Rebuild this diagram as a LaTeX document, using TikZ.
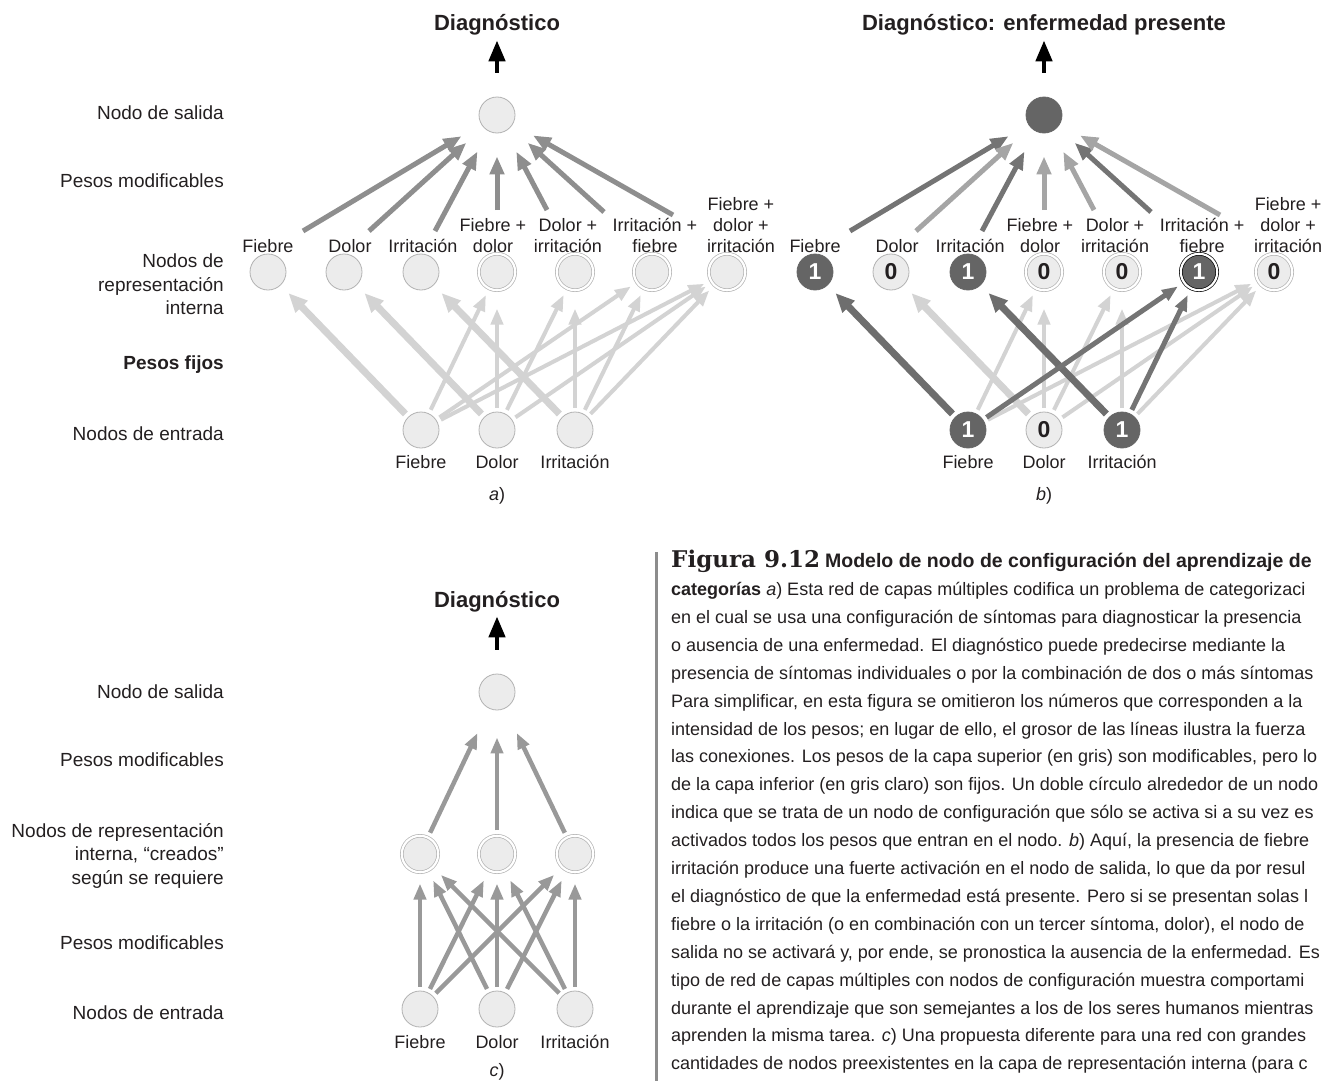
\documentclass[tikz,border=0pt]{standalone}
\usepackage{fontspec}
\setmainfont{Liberation Sans}
\newfontfamily\figfont{DejaVu Serif}
\usetikzlibrary{arrows.meta}
\definecolor{nodefill}{HTML}{ECECEC}
\definecolor{nodeline}{HTML}{B2B2B2}
\definecolor{actfill}{HTML}{656565}
\definecolor{fixgray}{HTML}{D3D3D3}
\definecolor{modgray}{HTML}{8E8E8E}
\definecolor{hotgray}{HTML}{747474}
\definecolor{coolgray}{HTML}{A5A5A5}
\definecolor{cgray}{HTML}{999999}
\definecolor{bargray}{HTML}{8C8C8C}
\definecolor{inkgray}{HTML}{231F20}

\tikzset{
  unitnode/.style={circle, minimum size=36pt, inner sep=0pt, fill=nodefill, draw=nodeline,
    line width=0.8pt, font=\fontsize{23}{26}\selectfont\bfseries, text=inkgray},
  cfg/.style={unitnode, minimum size=36.4pt, double=white, double distance=2.2pt, line width=0.7pt},
  fired/.style={fill=actfill, draw=actfill, text=white},
  lbl/.style={inner sep=0pt, align=center, anchor=south, font=\fontsize{18}{21}\selectfont, text=inkgray},
  sidelbl/.style={inner sep=0pt, align=right, font=\fontsize{19}{23.5}\selectfont, text=inkgray},
  ttl/.style={inner sep=0pt, anchor=base, font=\fontsize{22}{26}\selectfont\bfseries, text=inkgray},
  outarr/.style={draw=black, line width=4.5pt, -{Triangle[length=21pt,width=16pt]}, shorten <=24pt, shorten >=4.5pt},
  modw/.style={draw=modgray, line width=5pt, -{Triangle[length=18pt,width=14pt]}, shorten >=23pt},
  fixthin/.style={draw=fixgray, line width=4pt, -{Triangle[length=16pt,width=12pt]}, shorten <=4pt, shorten >=7pt},
  fixthick/.style={fixthin, line width=7pt, -{Triangle[length=19pt,width=16pt]}, shorten >=11pt},
  cmod/.style={draw=cgray, line width=4.5pt, -{Triangle[length=16pt,width=12pt]}, shorten <=4pt, shorten >=11pt},
}

\begin{document}
\begin{tikzpicture}[x=1pt,y=-1pt]
  \useasboundingbox (0,0) rectangle (1324,1081);
  % left column, top
  \node[sidelbl, anchor=base east] (asal) at (224,119) {Nodo de salida};
  \node[sidelbl, anchor=base east] (apes) at (224,187) {Pesos modificables};
  \node[sidelbl, anchor=north east] (arep) at (224,254) {Nodos de\\representación\\interna};
  \node[sidelbl, anchor=base east] (afij) at (224,369) {\textbf{Pesos fijos}};
  \node[sidelbl, anchor=base east] (aent) at (224,440) {Nodos de entrada};

  % a)
  \node[ttl] (atit) at (497,31) {Diagnóstico};
  \node[unitnode] (aout) at (497,115) {};
  \draw[outarr] (aout) -- (atit);
  \foreach \i/\x in {1/268,2/344,3/421}
    \node[unitnode] (ah\i) at (\x,272) {};
  \foreach \i/\x in {4/497,5/575,6/652,7/727}
    \node[cfg] (ah\i) at (\x,272) {};
  \foreach \i/\x in {1/421,2/497,3/575}
    \node[unitnode] (ain\i) at (\x,430) {};
  \node[lbl] (al1) at (268,253) {Fiebre};
  \node[lbl] (al2) at (350,253) {Dolor};
  \node[lbl] (al3) at (423,253) {Irritación};
  \node[lbl] (al4) at (493,253) {Fiebre +\\dolor};
  \node[lbl] (al5) at (568,253) {Dolor +\\irritación};
  \node[lbl] (al6) at (655,253) {Irritación +\\fiebre};
  \node[lbl] (al7) at (741,253) {Fiebre +\\dolor +\\irritación};
  \node[lbl, anchor=base] (ail1) at (421,468) {Fiebre};
  \node[lbl, anchor=base] (ail2) at (497,468) {Dolor};
  \node[lbl, anchor=base] (ail3) at (575,468) {Irritación};
  \node[lbl, anchor=base] (acap) at (497,500) {\textit{a})};
  \foreach \i/\x/\y in {1/303/231,2/369/231,3/435/231,4/497/210,5/547/210,6/604/212,7/673/215}
    \coordinate (as\i) at (\x,\y);
  \foreach \i in {1,...,7}
    \draw[modw] (as\i) -- (aout);
  \foreach \s/\t in {1/1,2/2,3/3}
    \draw[fixthick] (ain\s) -- (ah\t);
  \foreach \s/\t in {1/4,2/5,1/6,3/6,1/7,2/7,3/7}
    \draw[fixthin] (ain\s) -- (ah\t);
  \foreach \s/\t in {2/4,3/5}
    \draw[fixthin, shorten >=18pt] (ain\s) -- (ah\t);

  % b)
  \begin{scope}[xshift=547pt]
    \node[ttl] (btit) at (497,31) {Diagnóstico: enfermedad presente};
    \node[unitnode, fired] (bout) at (497,115) {};
    \draw[outarr] (bout) -- (btit);
    \node[unitnode, fired] (bh1) at (268,272) {1};
    \node[unitnode] (bh2) at (344,272) {0};
    \node[unitnode, fired] (bh3) at (421,272) {1};
    \node[cfg] (bh4) at (497,272) {0};
    \node[cfg] (bh5) at (575,272) {0};
    \node[cfg, fired, draw=black] (bh6) at (652,272) {1};
    \node[cfg] (bh7) at (727,272) {0};
    \node[unitnode, fired] (bin1) at (421,430) {1};
    \node[unitnode] (bin2) at (497,430) {0};
    \node[unitnode, fired] (bin3) at (575,430) {1};
    \node[lbl] (bl1) at (268,253) {Fiebre};
    \node[lbl] (bl2) at (350,253) {Dolor};
    \node[lbl] (bl3) at (423,253) {Irritación};
    \node[lbl] (bl4) at (493,253) {Fiebre +\\dolor};
    \node[lbl] (bl5) at (568,253) {Dolor +\\irritación};
    \node[lbl] (bl6) at (655,253) {Irritación +\\fiebre};
    \node[lbl] (bl7) at (741,253) {Fiebre +\\dolor +\\irritación};
    \node[lbl, anchor=base] (bil1) at (421,468) {Fiebre};
    \node[lbl, anchor=base] (bil2) at (497,468) {Dolor};
    \node[lbl, anchor=base] (bil3) at (575,468) {Irritación};
    \node[lbl, anchor=base] (bcap) at (497,500) {\textit{b})};
    \foreach \i/\x/\y in {1/303/231,2/369/231,3/435/231,4/497/210,5/547/210,6/604/212,7/673/215}
      \coordinate (bs\i) at (\x,\y);
    \foreach \i/\c in {1/hotgray,2/coolgray,3/hotgray,4/coolgray,5/coolgray,6/hotgray,7/coolgray}
      \draw[modw, draw=\c] (bs\i) -- (bout);
    \draw[fixthick] (bin2) -- (bh2);
    \foreach \s/\t in {1/4,2/5,1/7,2/7,3/7}
      \draw[fixthin] (bin\s) -- (bh\t);
    \foreach \s/\t in {2/4,3/5}
      \draw[fixthin, shorten >=18pt] (bin\s) -- (bh\t);
    \foreach \s/\t in {1/1,3/3}
      \draw[fixthick, draw=hotgray!95!black] (bin\s) -- (bh\t);
    \foreach \s/\t in {1/6,3/6}
      \draw[fixthin, draw=hotgray, line width=5pt] (bin\s) -- (bh\t);
  \end{scope}

  % c)
  \node[sidelbl, anchor=base east] (csal) at (224,698) {Nodo de salida};
  \node[sidelbl, anchor=base east] (cpes) at (224,766) {Pesos modificables};
  \node[sidelbl, anchor=north east] (crep) at (224,823) {Nodos de representación\\interna, “creados”\\según se requiere};
  \node[sidelbl, anchor=base east] (cpes2) at (224,949) {Pesos modificables};
  \node[sidelbl, anchor=base east] (cent) at (224,1019) {Nodos de entrada};
  \node[ttl] (ctit) at (497,607) {Diagnóstico};
  \node[unitnode] (cout) at (497,692) {};
  \draw[outarr] (cout) -- (ctit);
  \foreach \i/\x/\t in {1/420/Fiebre,2/497/Dolor,3/575/Irritación} {
    \node[cfg] (ch\i) at (\x,854) {};
    \node[unitnode] (cin\i) at (\x,1009) {};
    \node[lbl, anchor=base] (cil\i) at (\x,1048) {\t};
  }
  \node[lbl, anchor=base] (ccap) at (497,1076) {\textit{c})};
  \foreach \i in {1,2,3}
    \draw[cmod, shorten <=5pt, shorten >=27pt] (ch\i) -- (cout);
  \foreach \s in {1,2,3}
    \foreach \t in {1,2,3}
      \draw[cmod] (cin\s) -- (ch\t);

  % caption
  \draw[bargray, line width=3pt] (656,552) -- (656,1081);
  \node[anchor=north west, inner sep=0pt, align=left, font=\fontsize{18}{27.9}\selectfont, text=inkgray] (capt) at (671,550) {%
    {\figfont\bfseries\fontsize{23}{27.9}\selectfont Figura 9.12} {\bfseries\fontsize{19.5}{27.9}\selectfont Modelo de nodo de configuración del aprendizaje de}\\
    \textbf{categorías} \textit{a}) Esta red de capas múltiples codifica un problema de categorizaci\\
    en el cual se usa una configuración de síntomas para diagnosticar la presencia\\
    o ausencia de una enfermedad. El diagnóstico puede predecirse mediante la\\
    presencia de síntomas individuales o por la combinación de dos o más síntomas\\
    Para simplificar, en esta figura se omitieron los números que corresponden a la\\
    intensidad de los pesos; en lugar de ello, el grosor de las líneas ilustra la fuerza\\
    las conexiones. Los pesos de la capa superior (en gris) son modificables, pero lo\\
    de la capa inferior (en gris claro) son fijos. Un doble círculo alrededor de un nodo\\
    indica que se trata de un nodo de configuración que sólo se activa si a su vez es\\
    activados todos los pesos que entran en el nodo. \textit{b}) Aquí, la presencia de fiebre\\
    irritación produce una fuerte activación en el nodo de salida, lo que da por resul\\
    el diagnóstico de que la enfermedad está presente. Pero si se presentan solas l\\
    fiebre o la irritación (o en combinación con un tercer síntoma, dolor), el nodo de\\
    salida no se activará y, por ende, se pronostica la ausencia de la enfermedad. Es\\
    tipo de red de capas múltiples con nodos de configuración muestra comportami\\
    durante el aprendizaje que son semejantes a los de los seres humanos mientras\\
    aprenden la misma tarea. \textit{c}) Una propuesta diferente para una red con grandes\\
    cantidades de nodos preexistentes en la capa de representación interna (para c};
\end{tikzpicture}
\end{document}
